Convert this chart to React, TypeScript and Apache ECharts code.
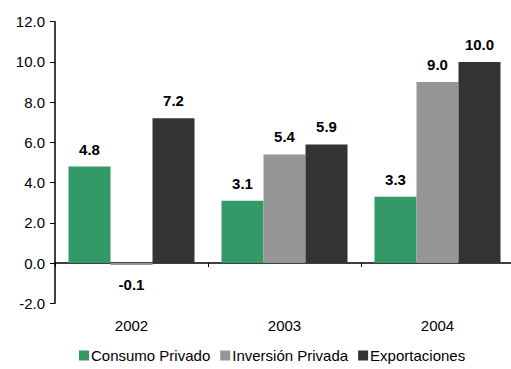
import React, { useEffect, useRef } from "react";
import * as echarts from "echarts";

const categories = ["2002", "2003", "2004"];
const consumoPrivado = [4.8, 3.1, 3.3];
const inversionPrivada = [-0.1, 5.4, 9.0];
const exportaciones = [7.2, 5.9, 10.0];
const seriesNames = ["Consumo Privado", "Inversión Privada", "Exportaciones"];
const colors = ["#339966", "#969696", "#333333"];

const FONT = "'Liberation Sans', Arial, sans-serif";

export default function App() {
  const ref = useRef<HTMLDivElement>(null);
  useEffect(() => {
    if (!ref.current) return;
    const chart = echarts.init(ref.current, undefined, { renderer: "svg" });
    const mkLabel = (v: number) => ({
      show: true,
      position: v < 0 ? "bottom" : "top",
      distance: v < 0 ? 12 : 10,
      fontFamily: FONT,
      fontSize: 15,
      fontWeight: "bold",
      color: "#000",
      formatter: (p: any) => Number(p.value).toFixed(1),
    });
    const mkSeries = (name: string, data: number[], color: string) => ({
      name,
      type: "bar",
      xAxisIndex: 0,
      barWidth: 42,
      barGap: "0%",
      itemStyle: { color },
      data: data.map((v) => ({ value: v, label: mkLabel(v) })),
    });
    chart.setOption({
      animation: false,
      grid: {
        left: 55,
        top: 21.7,
        width: 459,
        height: 281.6,
        containLabel: false,
        outerBoundsMode: "none",
      },
      legend: {
        left: 79,
        top: 348,
        padding: 0,
        icon: "rect",
        itemWidth: 10,
        itemHeight: 10,
        itemGap: 10,
        textStyle: {
          fontFamily: FONT,
          fontSize: 15,
          color: "#000",
          padding: [0, 0, 0, -3],
        },
        data: seriesNames,
      },
      xAxis: [
        {
          type: "category",
          data: categories,
          position: "bottom",
          axisLine: { onZero: true, lineStyle: { color: "#000", width: 1.5 } },
          axisTick: { show: true, length: 4, lineStyle: { color: "#000" } },
          axisLabel: { show: false },
          splitLine: { show: false },
        },
        {
          type: "category",
          data: categories,
          position: "bottom",
          axisLine: { show: false, onZero: false },
          axisTick: { show: false },
          axisLabel: {
            show: true,
            margin: 15,
            fontFamily: FONT,
            fontSize: 15,
            color: "#000",
          },
          splitLine: { show: false },
        },
      ],
      yAxis: {
        type: "value",
        min: -2,
        max: 12,
        interval: 2,
        axisLine: { show: true, lineStyle: { color: "#000", width: 1.5 } },
        axisTick: { show: true, inside: false, length: 5, lineStyle: { color: "#000" } },
        axisLabel: {
          margin: 10,
          fontFamily: FONT,
          fontSize: 15,
          color: "#000",
          formatter: (v: number) => v.toFixed(1),
        },
        splitLine: { show: false },
      },
      series: [
        mkSeries(seriesNames[0], consumoPrivado, colors[0]),
        mkSeries(seriesNames[1], inversionPrivada, colors[1]),
        mkSeries(seriesNames[2], exportaciones, colors[2]),
      ],
    });
    return () => chart.dispose();
  }, []);
  return <div ref={ref} style={{ width: 511, height: 369, position: "absolute", left: 0, top: 0 }} />;
}
